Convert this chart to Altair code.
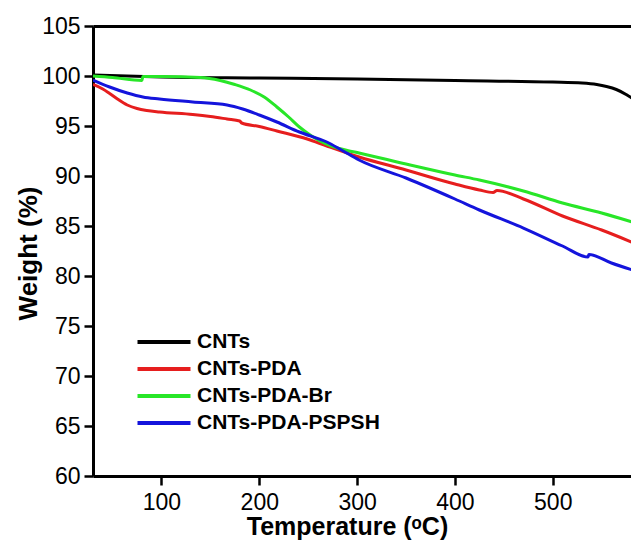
import altair as alt
import pandas as pd

series_names = ["CNTs", "CNTs-PDA", "CNTs-PDA-Br", "CNTs-PDA-PSPSH"]
series_colors = ["#000000", "#e61e1e", "#28e628", "#1414dc"]

cnts_t = [30, 100, 200, 300, 400, 500, 530, 545, 555, 565, 575, 582, 588]
cnts_w = [100.1, 99.9, 99.8, 99.7, 99.55, 99.4, 99.3, 99.15, 98.95, 98.65, 98.15, 97.7, 97.1]

pda_t = [30, 40, 47, 55, 65, 75, 85, 98, 132, 150, 167, 180, 182, 200, 218, 249, 269, 302,
         350, 400, 425, 439, 443, 470, 510, 550, 588]
pda_w = [99.15, 98.7, 98.25, 97.7, 97.1, 96.75, 96.55, 96.4, 96.15, 95.95, 95.7, 95.5, 95.3,
         94.95, 94.5, 93.7, 93.0, 91.9, 90.6, 89.2, 88.6, 88.35, 88.55, 87.7, 86.0, 84.6, 83.1]

br_t = [30, 50, 80, 81, 100, 140, 160, 175, 191, 205, 218, 230, 241, 252, 262, 275, 290, 302,
        350, 400, 425, 470, 510, 550, 588]
br_w = [100.0, 99.85, 99.55, 99.95, 99.95, 99.85, 99.55, 99.15, 98.6, 97.9, 96.9, 95.9, 94.9,
        94.1, 93.5, 92.95, 92.55, 92.3, 91.2, 90.1, 89.6, 88.5, 87.3, 86.3, 85.2]

psp_t = [30, 47, 65, 81, 98, 132, 167, 183, 200, 218, 241, 269, 284, 302, 350, 400, 425, 470,
         510, 536, 537, 560, 588]
psp_w = [99.6, 98.9, 98.3, 97.9, 97.7, 97.4, 97.1, 96.7, 96.1, 95.4, 94.4, 93.4, 92.6, 91.6,
         89.8, 87.7, 86.6, 84.8, 83.0, 81.9, 82.15, 81.3, 80.4]

x_ticks = [100, 200, 300, 400, 500]
y_ticks = [60, 65, 70, 75, 80, 85, 90, 95, 100, 105]

rows = []
for name, ts, ws in zip(series_names, [cnts_t, pda_t, br_t, psp_t], [cnts_w, pda_w, br_w, psp_w]):
    for i, (t, w) in enumerate(zip(ts, ws)):
        rows.append({"series": name, "T": t, "W": w, "order": i})
df = pd.DataFrame(rows)

xscale = alt.Scale(domain=[30, 580], nice=False, zero=False)
yscale = alt.Scale(domain=[60, 105], nice=False, zero=False)

y_axis = alt.Axis(values=y_ticks, title="Weight (%)", labelPadding=4,
                  titleAngle=270, titleX=-57, titleY=227, titleBaseline="alphabetic",
                  titleAlign="center", titleFontSize=26)

lines = alt.Chart(df).mark_line(strokeWidth=3, interpolate="monotone", clip=True).encode(
    x=alt.X("T:Q", scale=xscale,
            axis=alt.Axis(values=x_ticks, title="Temperature (ᵒC)", labelPadding=6,
                          titleX=254, titleY=58, titleBaseline="alphabetic", titleAlign="center",
                          titleFontSize=25)),
    y=alt.Y("W:Q", scale=yscale, axis=y_axis),
    color=alt.Color("series:N", scale=alt.Scale(domain=series_names, range=series_colors),
                    legend=alt.Legend(orient="none", legendX=59, legendY=304, title=None,
                                      symbolType="M-2.65,0H2.65", symbolStrokeWidth=4,
                                      symbolSize=400,
                                      labelFont="Liberation Sans", labelFontSize=21,
                                      labelFontWeight="bold", labelColor="black",
                                      rowPadding=5, padding=0, labelOffset=21,
                                      labelLimit=400)),
    order="order:Q",
)

top = alt.Chart(df).mark_line(opacity=0, clip=True).encode(
    x=alt.X("T:Q", scale=xscale,
            axis=alt.Axis(orient="top", labels=False, ticks=False, title=None,
                          domainWidth=3, domainColor="black")),
    y=alt.Y("W:Q", scale=yscale, axis=y_axis),
    detail="series:N",
)

chart = alt.layer(lines, top).resolve_axis(x="independent").properties(
    width=538, height=450,
    autosize=alt.AutoSizeParams(type="none"),
    padding={"left": 85, "top": 18, "right": 0, "bottom": 64},
).configure_view(stroke=None).configure_axis(
    grid=False, labelFont="Liberation Sans", labelFontSize=23, labelColor="black",
    tickColor="black", tickWidth=2.5, tickSize=9, domainColor="black", domainWidth=3,
    titleFont="Liberation Sans", titleFontWeight="bold", titleColor="black",
)

chart.save("out.html", embed_options={"renderer": "svg", "actions": False})
